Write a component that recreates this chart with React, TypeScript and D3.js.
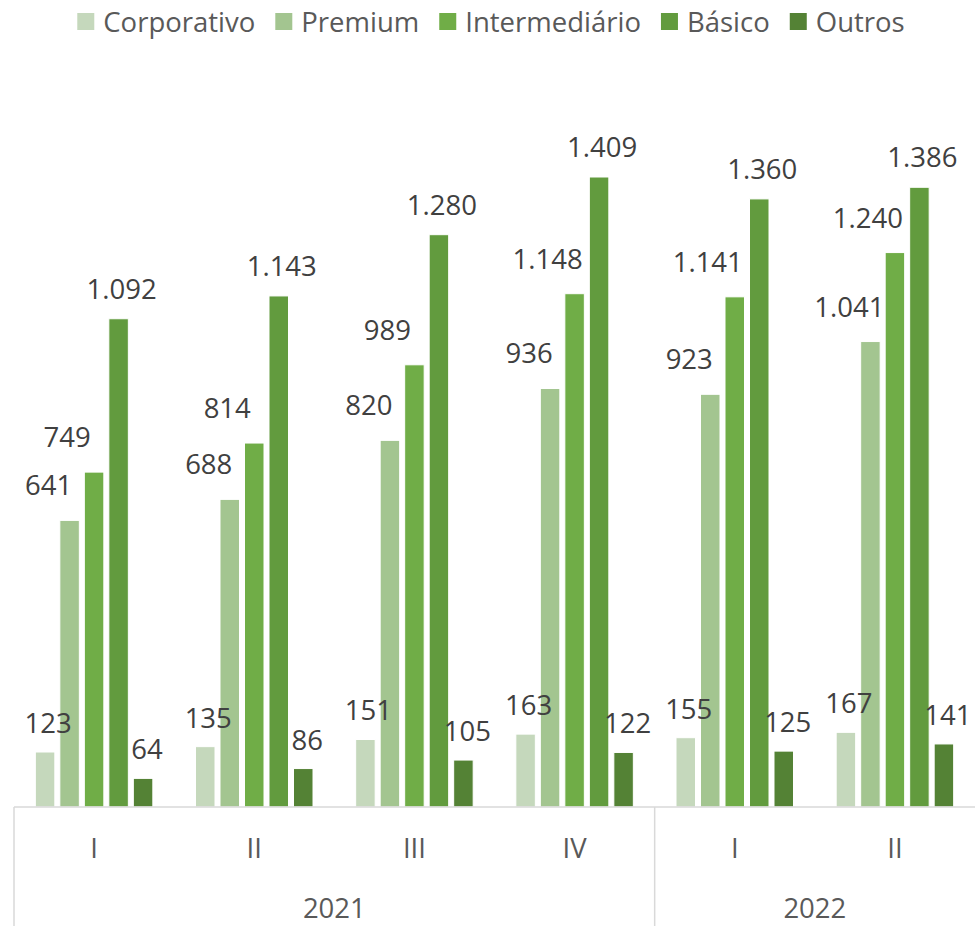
import React, { useEffect, useRef } from 'react';
import * as d3 from 'd3';

const quarters = ['I', 'II', 'III', 'IV', 'I', 'II'];
const years = [
  { label: '2021', from: 0, to: 4 },
  { label: '2022', from: 4, to: 6 },
];
const seriesNames = ['Corporativo', 'Premium', 'Intermediário', 'Básico', 'Outros'];
const seriesColors = ['#C5D8BC', '#A3C590', '#70AD47', '#629B3E', '#548235'];

const corporativo = [123, 135, 151, 163, 155, 167];
const premium = [641, 688, 820, 936, 923, 1041];
const intermediario = [749, 814, 989, 1148, 1141, 1240];
const basico = [1092, 1143, 1280, 1409, 1360, 1386];
const outros = [64, 86, 105, 122, 125, 141];

const seriesValues = [corporativo, premium, intermediario, basico, outros];

// label nudges per series (Excel labels were dragged left for the middle bars)
const labelDx = [3, -21, -27, 3, 4];
const labelGap = [19, 25, 25, 20, 19];

const width = 975;
const height = 926;
const fmt = (v: number) => d3.format(',')(v).replace(/,/g, '.');

const Chart: React.FC = () => {
  const ref = useRef<SVGSVGElement>(null);

  useEffect(() => {
    document.body.style.margin = '0';
    if (!ref.current) return;
    const svg = d3.select(ref.current);
    svg.selectAll('*').remove();

    const font = '"Open Sans", sans-serif';
    const left = 14;
    const right = 975;
    const baseY = 807;

    const x0 = d3.scaleBand<number>().domain(d3.range(quarters.length)).range([left, right]).padding(0);
    const half = 58.75;
    const c = x0.bandwidth() / 2;
    const x1 = d3.scaleBand<number>()
      .domain(d3.range(seriesNames.length))
      .range([c - half, c + half])
      .paddingInner(0.204)
      .paddingOuter(0);
    const y = d3.scaleLinear().domain([0, 1600]).range([baseY, 91.6]);

    // bars
    const groups = svg.append('g')
      .selectAll('g')
      .data(quarters.map((_, i) => i))
      .enter().append('g')
      .attr('transform', i => `translate(${x0(i)},0)`);

    groups.selectAll('rect')
      .data(i => seriesValues.map((vals, s) => ({ s, v: vals[i] })))
      .enter().append('rect')
      .attr('x', d => x1(d.s)!)
      .attr('y', d => y(d.v))
      .attr('width', x1.bandwidth())
      .attr('height', d => baseY - y(d.v))
      .attr('fill', d => seriesColors[d.s])
      .attr('stroke', '#ffffff')
      .attr('stroke-width', 1);

    groups.selectAll('text')
      .data(i => seriesValues.map((vals, s) => ({ s, v: vals[i] })))
      .enter().append('text')
      .attr('x', d => x1(d.s)! + x1.bandwidth() / 2 + labelDx[d.s])
      .attr('y', d => y(d.v) - labelGap[d.s])
      .attr('text-anchor', 'middle')
      .attr('font-family', font)
      .attr('font-size', 27.5)
      .attr('fill', '#404040')
      .text(d => fmt(d.v));

    // category axis
    const axis = svg.append('g').attr('stroke', '#D9D9D9').attr('stroke-width', 1.5);
    axis.append('line').attr('x1', left).attr('x2', right).attr('y1', baseY).attr('y2', baseY);
    const edges = [0, ...years.map(yr => yr.to)].filter(e => e < quarters.length);
    axis.selectAll('line.sep')
      .data(edges)
      .enter().append('line')
      .attr('class', 'sep')
      .attr('x1', e => x0(e)!)
      .attr('x2', e => x0(e)!)
      .attr('y1', baseY)
      .attr('y2', height);

    svg.append('g')
      .selectAll('text')
      .data(quarters)
      .enter().append('text')
      .attr('x', (_, i) => x0(i)! + c)
      .attr('y', 858)
      .attr('text-anchor', 'middle')
      .attr('font-family', font)
      .attr('font-size', 27.5)
      .attr('fill', '#595959')
      .text(d => d);

    svg.append('g')
      .selectAll('text')
      .data(years)
      .enter().append('text')
      .attr('x', d => ((x0(d.from)! + (d.to < quarters.length ? x0(d.to)! : right)) / 2))
      .attr('y', 918)
      .attr('text-anchor', 'middle')
      .attr('font-family', font)
      .attr('font-size', 27.5)
      .attr('fill', '#595959')
      .text(d => d.label);

    // legend
    const legend = svg.append('g');
    const sq = 17;
    const items = legend.selectAll('g')
      .data(seriesNames)
      .enter().append('g');
    items.append('rect')
      .attr('width', sq)
      .attr('height', sq)
      .attr('y', 13)
      .attr('fill', (_, i) => seriesColors[i]);
    items.append('text')
      .attr('x', sq + 9)
      .attr('y', 32)
      .attr('font-family', font)
      .attr('font-size', 27.5)
      .attr('fill', '#595959')
      .text(d => d);

    let cursor = 0;
    items.each(function () {
      const g = d3.select(this);
      g.attr('transform', `translate(${cursor},0)`);
      const w = (g.select('text').node() as SVGTextElement).getComputedTextLength();
      cursor += sq + 9 + w + 20;
    });
    const total = cursor - 20;
    legend.attr('transform', `translate(${491 - total / 2},0)`);
  }, []);

  return <svg ref={ref} width={width} height={height} style={{ display: 'block', background: '#fff' }} />;
};

export default function App() {
  return <Chart />;
}
